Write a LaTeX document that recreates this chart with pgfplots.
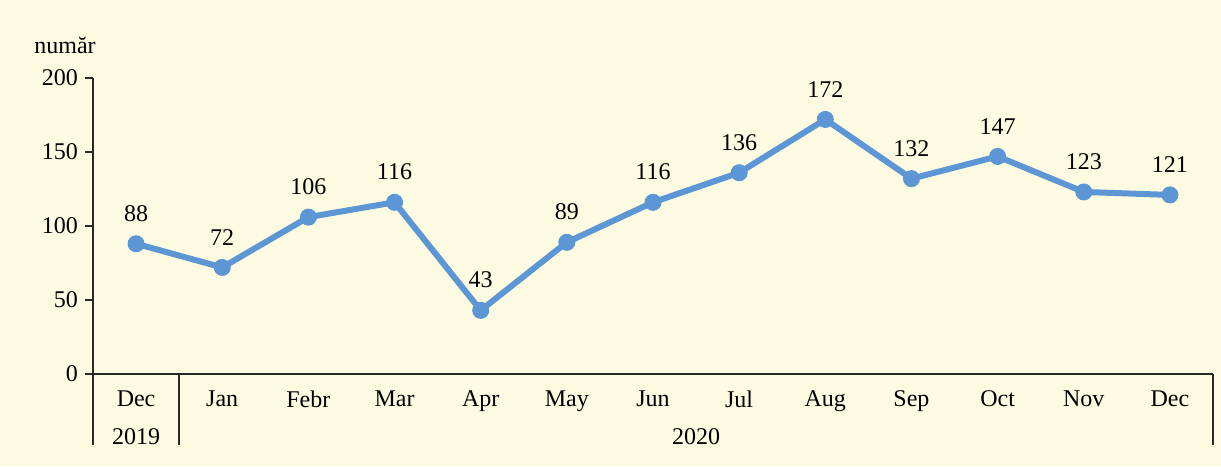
\documentclass[border=0pt]{standalone}
\usepackage{pgfplots}
\pgfplotsset{compat=1.18}
\usepackage{fontspec}
\setmainfont{Liberation Serif}
\definecolor{bg}{RGB}{252,251,225}
\definecolor{serie}{RGB}{92,150,212}
\definecolor{ax}{RGB}{40,40,40}
\begin{document}
\begin{tikzpicture}
\fill[bg] (0,0) rectangle (610.5pt,233pt);
\useasboundingbox (0,0) rectangle (610.5pt,233pt);
\node[font=\fontsize{12}{14}\selectfont, anchor=center] at (32.5pt,210.5pt) {număr};
\begin{axis}[
    at={(46.5pt,46pt)}, anchor=south west,
    scale only axis, width=560pt, height=148pt,
    xmin=-0.5, xmax=12.5, ymin=0, ymax=200,
    axis lines=left, axis line style={-, ax, line width=0.9pt},
    clip=false,
    ytick={0,50,100,150,200},
    tick align=outside, major tick length=4pt,
    ytick style={ax, line width=0.9pt},
    xtick={0,...,12}, xtick style={draw=none},
    xticklabels={Dec,Jan,Febr,Mar,Apr,May,Jun,Jul,Aug,Sep,Oct,Nov,Dec},
    font=\fontsize{12}{14}\selectfont,
    /pgf/number format/assume math mode=true,
    tick label style={font=\fontsize{12}{14}\selectfont},
    xticklabel style={yshift=-1pt},
    nodes near coords,
    every node near coord/.append style={font=\fontsize{12}{14}\selectfont, yshift=7.5pt, text=black},
]
% numărul lunar, dec 2019 - dec 2020
\addplot[serie, line width=3pt, mark=*, mark size=4pt, mark options={fill=serie, draw=serie, line width=0.5pt}] coordinates {
    (0,88) (1,72) (2,106) (3,116) (4,43) (5,89) (6,116)
    (7,136) (8,172) (9,132) (10,147) (11,123) (12,121)
};
% linii de separare sub axa x
\draw[ax, line width=0.9pt] (axis cs:-0.5,0) -- ([yshift=-35.5pt]axis cs:-0.5,0);
\draw[ax, line width=0.9pt] (axis cs:0.5,0) -- ([yshift=-35.5pt]axis cs:0.5,0);
\draw[ax, line width=0.9pt] (axis cs:12.5,0) -- ([yshift=-35.5pt]axis cs:12.5,0);
\node[font=\fontsize{12}{14}\selectfont] at ([yshift=-31.5pt]axis cs:0,0) {2019};
\node[font=\fontsize{12}{14}\selectfont] at ([yshift=-31.5pt]axis cs:6.5,0) {2020};
\end{axis}
\end{tikzpicture}
\end{document}
